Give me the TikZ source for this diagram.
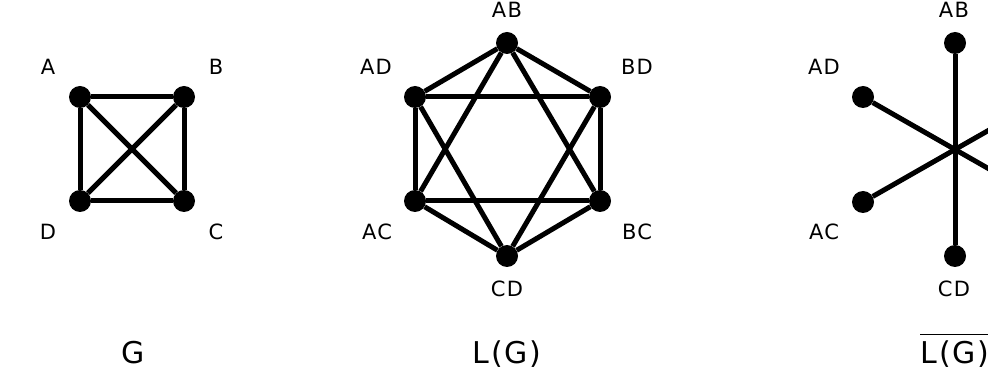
\documentclass[tikz,border=0pt]{standalone}
\usepackage{fontspec}
\setmainfont{DejaVu Sans}[LetterSpace=6]
\usetikzlibrary{positioning}

\begin{document}
\begin{tikzpicture}[x=1pt, y=-1pt,
    vertex/.style={circle, fill=black, inner sep=0pt, minimum size=22pt},
    edge/.style={line width=5pt},
    lbl/.style={font=\fontsize{21}{25}\selectfont, inner sep=0pt},
    ttl/.style={font=\fontsize{30}{36}\selectfont, inner sep=0pt}]
    \useasboundingbox (0,0) rectangle (988,371);
    \clip (0,0) rectangle (988,371);

    % G
    \node[vertex] (A) at (80,97) {};
    \node[vertex] (B) at (184,97) {};
    \node[vertex] (C) at (184,201) {};
    \node[vertex] (D) at (80,201) {};
    \node[lbl] (lA) at (48,67) {A};
    \node[lbl] (lB) at (216,67) {B};
    \node[lbl] (lC) at (216,232) {C};
    \node[lbl] (lD) at (48,232) {D};
    \draw[edge] (A) -- (B);
    \draw[edge] (B) -- (C);
    \draw[edge] (C) -- (D);
    \draw[edge] (D) -- (A);
    \draw[edge] (A) -- (C);
    \draw[edge] (B) -- (D);
    \node[ttl] (tG) at (133,353) {G};

    % L(G)
    \node[vertex] (AB) at (507,43) {};
    \node[vertex] (AD) at (415,97) {};
    \node[vertex] (BD) at (600,97) {};
    \node[vertex] (AC) at (415,201) {};
    \node[vertex] (BC) at (600,201) {};
    \node[vertex] (CD) at (507,256) {};
    \node[lbl] (lAB) at (507,10) {AB};
    \node[lbl] (lAD) at (376,67) {AD};
    \node[lbl] (lBD) at (637,67) {BD};
    \node[lbl] (lAC) at (377,232) {AC};
    \node[lbl] (lBC) at (637,232) {BC};
    \node[lbl] (lCD) at (507,289) {CD};
    \draw[edge] (AB) -- (AD);
    \draw[edge] (AB) -- (BD);
    \draw[edge] (AB) -- (AC);
    \draw[edge] (AB) -- (BC);
    \draw[edge] (AD) -- (BD);
    \draw[edge] (AD) -- (AC);
    \draw[edge] (AD) -- (CD);
    \draw[edge] (BD) -- (BC);
    \draw[edge] (BD) -- (CD);
    \draw[edge] (AC) -- (BC);
    \draw[edge] (AC) -- (CD);
    \draw[edge] (BC) -- (CD);
    \node[ttl] (tL) at (507,354) {L(G)};

    % complement of L(G)
    \node[vertex] (cAB) at (955,43) {};
    \node[vertex] (cAD) at (863,97) {};
    \node[vertex] (cBD) at (1047,97) {};
    \node[vertex] (cAC) at (863,202) {};
    \node[vertex] (cBC) at (1047,202) {};
    \node[vertex] (cCD) at (955,256) {};
    \node[lbl] (lcAB) at (954,10) {AB};
    \node[lbl] (lcAD) at (824,67) {AD};
    \node[lbl] (lcAC) at (824,232) {AC};
    \node[lbl] (lcCD) at (954,289) {CD};
    \draw[edge] (cAB) -- (cCD);
    \draw[edge] (cAD) -- (cBC);
    \draw[edge] (cAC) -- (cBD);
    \node[ttl] (tC) at (955,354) {L(G)};
    \draw[line width=1.5pt] ([yshift=6pt]tC.north west) -- ([yshift=6pt]tC.north east);
\end{tikzpicture}
\end{document}
